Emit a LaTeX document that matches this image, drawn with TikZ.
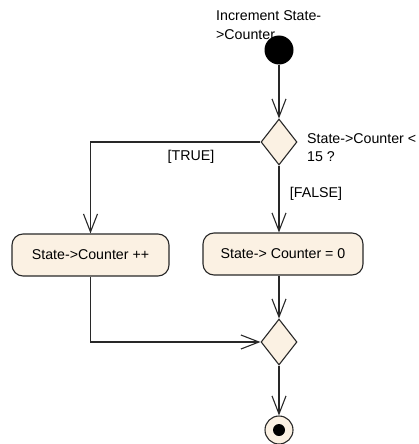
\documentclass[tikz,border=0pt]{standalone}
\usepackage{fontspec}
\setmainfont{Liberation Sans}
\usetikzlibrary{arrows.meta,shapes.geometric}
\definecolor{actfill}{RGB}{251,241,227}
\definecolor{umlline}{RGB}{40,40,40}
\tikzset{
	flow/.style={draw=umlline, line width=1.1pt, -{Straight Barb[length=18pt,width=14pt,line width=1.1pt]}},
	action/.style={draw=umlline, fill=actfill, line width=1.1pt, rounded corners=11pt, minimum height=42pt, inner sep=0pt, font=\fontsize{14.2}{17}\selectfont},
	decision/.style={diamond, draw=umlline, fill=actfill, line width=1.1pt, minimum width=36pt, minimum height=46pt, inner sep=0pt},
	lbl/.style={inner sep=0pt, align=left, font=\fontsize{14.2}{19}\selectfont}
}
\begin{document}
\begin{tikzpicture}[x=1pt, y=1pt]
			%%%%% START %%%%%
			\useasboundingbox (0, 0) rectangle (418, -444);
			
			\node[lbl, anchor=north west] (startlabel) at (216, -10) {Increment State-\\>Counter};
			\node[circle, fill=black, minimum size=29pt, inner sep=0pt] (initial) at (279, -50) {};
			
			\node[decision] (check) at (279, -142) {};
			\node[lbl, anchor=north west, font=\fontsize{14.2}{18}\selectfont] (checklabel) at (307, -133) {State->Counter <\\15 ?};
			
			\node[action, minimum width=157pt] (increment) at (90.5, -255) {State->Counter ++};
			\node[action, minimum width=160pt] (reset) at (283, -254) {State-> Counter = 0};
			
			\node[decision] (merge) at (279, -342) {};
			
			\node[circle, draw=umlline, fill=actfill, line width=1.1pt, minimum size=28pt, inner sep=0pt] (final) at (279, -430) {};
			\node[circle, fill=black, minimum size=12pt, inner sep=0pt] (finaldot) at (final) {};
			
			\draw[flow] (initial) -- (check.north);
			\draw[flow] (check.west) -| (increment.north);
			\draw[flow] (check.south) -- (check.south |- reset.north);
			\draw[flow] (merge.north |- reset.south) -- (merge.north);
			\draw[flow] (increment.south) |- (merge.west);
			\draw[flow] (merge.south) -- (final.north);
			
			\node[lbl] (truelabel) at (191, -157) {[TRUE]};
			\node[lbl] (falselabel) at (316, -194) {[FALSE]};
			%%%%% END %%%%%
\end{tikzpicture}
\end{document}
